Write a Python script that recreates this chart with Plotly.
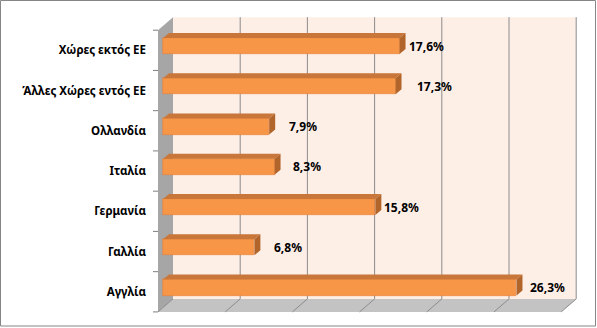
import plotly.graph_objects as go

# Export shares by destination (%), bottom to top
countries = ["Αγγλία", "Γαλλία", "Γερμανία", "Ιταλία", "Ολλανδία",
             "Άλλες Χώρες εντός ΕΕ", "Χώρες εκτός ΕΕ"]
shares = [26.3, 6.8, 15.8, 8.3, 7.9, 17.3, 17.6]
x_ticks = [0, 5, 10, 15, 20, 25, 30]

# pixel gap between each bar end and its value label
label_pad = [6, 12, 1, 10, 12, 13, 1]

W, H = 597, 328
ML = 150
PX_X = 13.44          # pixels per percentage point
PX_Y = 40.25          # pixels per category step
X0_PX, Y0_PX = 163, 287.5   # bar front-face origin (pixels)

x_lo = (ML - X0_PX) / PX_X
x_hi = (W - X0_PX) / PX_X
y_lo = (Y0_PX - H) / PX_Y
y_hi = Y0_PX / PX_Y

# 3D depth offsets, in axis units
bar_dx, bar_dy = 6 / PX_X, 5 / PX_Y
front_dx, front_dy = -5 / PX_X, -4.3 / PX_Y
back_dx, back_dy = 10 / PX_X, 8.7 / PX_Y
half_h = 0.2

orange = "#F79646"
orange_top = "#C8763A"
orange_side = "#B2652A"
wall_back = "#FDEEE6"
wall_side = "#A6A6A6"
floor_col = "#C3C3C3"
grid_col = "#8C8C8C"

n = len(countries)
ylo_cat, yhi_cat = -0.5, n - 0.5
xmax = x_ticks[-1]

shapes = []


def poly(pts, fill, layer="below"):
    path = "M " + " L ".join(f"{x},{y}" for x, y in pts) + " Z"
    shapes.append(dict(type="path", path=path, xref="x", yref="y",
                       fillcolor=fill, line=dict(width=0, color=fill),
                       layer=layer))


# back wall
poly([(back_dx, ylo_cat + back_dy), (xmax + back_dx, ylo_cat + back_dy),
      (xmax + back_dx, yhi_cat + back_dy), (back_dx, yhi_cat + back_dy)], wall_back)
# side wall
poly([(front_dx, ylo_cat + front_dy), (front_dx, yhi_cat + front_dy),
      (back_dx, yhi_cat + back_dy), (back_dx, ylo_cat + back_dy)], wall_side)
# floor
poly([(front_dx, ylo_cat + front_dy), (xmax + front_dx, ylo_cat + front_dy),
      (xmax + back_dx, ylo_cat + back_dy), (back_dx, ylo_cat + back_dy)], floor_col)

# gridlines on back wall and floor
for t in x_ticks[1:]:
    shapes.append(dict(type="line", xref="x", yref="y", layer="below",
                       x0=t + back_dx, x1=t + back_dx,
                       y0=ylo_cat + back_dy, y1=yhi_cat + back_dy,
                       line=dict(color=grid_col, width=1)))
for t in x_ticks:
    shapes.append(dict(type="line", xref="x", yref="y", layer="below",
                       x0=t + back_dx, x1=t + front_dx,
                       y0=ylo_cat + back_dy, y1=ylo_cat + front_dy,
                       line=dict(color=grid_col, width=1)))

# category tick marks at the front edge of the side wall
for k in range(n + 1):
    yb = ylo_cat + k + front_dy
    shapes.append(dict(type="line", xref="x", yref="y", layer="below",
                       x0=front_dx - 5 / PX_X, x1=front_dx, y0=yb, y1=yb,
                       line=dict(color="#7F7F7F", width=1)))

# outer chart border
shapes.append(dict(type="rect", xref="paper", yref="paper",
                   x0=(0.5 - ML) / (W - ML), x1=(595.5 - ML) / (W - ML),
                   y0=2 / H, y1=(H - 0.5) / H,
                   line=dict(color="#868686", width=1), layer="above"))

fig = go.Figure()

# front faces
fig.add_trace(go.Bar(
    x=shares, y=list(range(n)), orientation="h", width=2 * half_h,
    marker=dict(color=orange, line=dict(color="#E5803A", width=0.6)),
    hoverinfo="skip", showlegend=False))

# top and side faces of each bar, built from the values
top_x, top_y, side_x, side_y = [], [], [], []
for i, v in enumerate(shares):
    yt = i + half_h
    yb = i - half_h
    top_x += [0, v, v + bar_dx, bar_dx, 0, None]
    top_y += [yt, yt, yt + bar_dy, yt + bar_dy, yt, None]
    side_x += [v, v, v + bar_dx, v + bar_dx, v, None]
    side_y += [yb, yt, yt + bar_dy, yb + bar_dy, yb, None]

fig.add_trace(go.Scatter(x=top_x, y=top_y, mode="lines", fill="toself",
                         fillcolor=orange_top, line=dict(width=0),
                         hoverinfo="skip", showlegend=False))
fig.add_trace(go.Scatter(x=side_x, y=side_y, mode="lines", fill="toself",
                         fillcolor=orange_side, line=dict(width=0),
                         hoverinfo="skip", showlegend=False))

font_family = "Noto Sans"
annotations = []
for i, v in enumerate(shares):
    annotations.append(dict(
        x=v + bar_dx, y=i, xref="x", yref="y", xanchor="left", yanchor="middle",
        xshift=label_pad[i], showarrow=False,
        text="<b>" + f"{v:.1f}".replace(".", ",") + "%</b>",
        font=dict(family=font_family, size=12, color="#000000")))

fig.update_layout(
    width=W, height=H,
    margin=dict(l=ML, r=0, t=0, b=0),
    paper_bgcolor="white", plot_bgcolor="rgba(0,0,0,0)",
    shapes=shapes, annotations=annotations,
    xaxis=dict(range=[x_lo, x_hi], showgrid=False, zeroline=False,
               showticklabels=False, showline=False, fixedrange=True),
    yaxis=dict(range=[y_lo, y_hi], showgrid=False, zeroline=False, showline=False,
               tickvals=[i + front_dy for i in range(n)],
               ticktext=["<b>" + c + "</b>" for c in countries],
               tickfont=dict(family=font_family, size=11.5, color="#000000"),
               ticks="", ticklabelstandoff=3, fixedrange=True),
    bargap=0,
)

fig.write_html("out.html")
